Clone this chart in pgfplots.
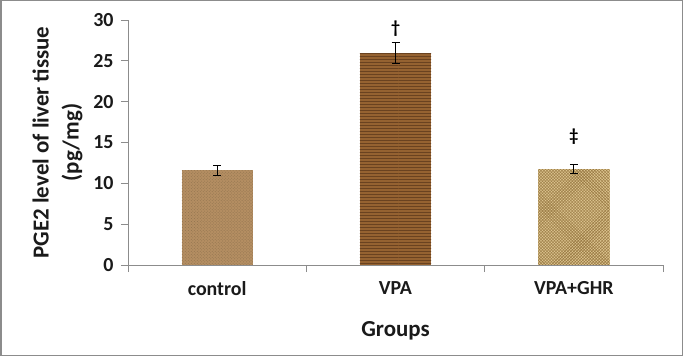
\documentclass[border=0pt]{standalone}
\usepackage{fontspec}
\setmainfont{Carlito}
\usepackage{pgfplots}
\pgfplotsset{compat=1.18}
\usetikzlibrary{patterns}
\definecolor{ctrl}{HTML}{B48E62}
\definecolor{vpa}{HTML}{956231}
\definecolor{vpadark}{HTML}{6A4220}
\definecolor{ghr}{HTML}{DCC48F}
\definecolor{ghrdark}{HTML}{94743E}
\definecolor{axgray}{HTML}{8C8C8C}
\definecolor{txt}{HTML}{1A1A1A}
\begin{document}
\begin{tikzpicture}
\draw[axgray, line width=1.5bp] (0.75bp,0.75bp) rectangle (682.25bp,355.25bp);
\begin{axis}[
  at={(128bp,91bp)}, anchor=south west,
  scale only axis, width=535bp, height=245bp,
  xmin=0, xmax=3, ymin=0, ymax=30,
  axis lines*=left,
  axis line style={axgray, line width=0.8bp},
  tick style={axgray, line width=0.8bp},
  tick align=outside, major tick length=7bp,
  ytick={0,5,...,30},
  xtick={0,1,2,3}, xticklabels={},
  extra x ticks={0.5,1.5,2.5},
  extra x tick labels={control,VPA,VPA+GHR},
  extra x tick style={tick style={draw=none}},
  xticklabel style={font=\bfseries\fontsize{20}{22}\selectfont, text=txt, yshift=-6bp},
  yticklabel style={font=\bfseries\fontsize{20}{22}\selectfont, text=txt, xshift=-4bp},
  /pgf/number format/assume math mode=true,
  xlabel={Groups},
  xlabel style={font=\bfseries\fontsize{23}{26}\selectfont, text=txt, yshift=-12bp},
  ylabel={PGE2 level of liver tissue\\(pg/mg)},
  ylabel style={font=\bfseries\fontsize{23}{30}\selectfont, text=txt, align=center, yshift=4bp},
  clip=false,
]
\addplot[ybar, bar width=0.4, fill=ctrl, draw=none,
  postaction={pattern=crosshatch dots, pattern color=ctrl!80!black},
  error bars/.cd, y dir=both, y explicit,
  error bar style={black, line width=0.9bp},
  error mark options={rotate=90, mark size=4bp, black, line width=0.9bp}]
  coordinates {(0.5,11.6) +- (0,0.6)};
\addplot[ybar, bar width=0.4, fill=vpa, draw=none,
  postaction={pattern=horizontal lines, pattern color=vpadark},
  error bars/.cd, y dir=both, y explicit,
  error bar style={black, line width=0.9bp},
  error mark options={rotate=90, mark size=4bp, black, line width=0.9bp}]
  coordinates {(1.5,26.0) +- (0,1.3)};
\addplot[ybar, bar width=0.4, fill=ghr, draw=none,
  postaction={pattern=crosshatch, pattern color=ghrdark},
  error bars/.cd, y dir=both, y explicit,
  error bar style={black, line width=0.9bp},
  error mark options={rotate=90, mark size=4bp, black, line width=0.9bp}]
  coordinates {(2.5,11.75) +- (0,0.6)};
\node[font=\bfseries\fontsize{18}{18}\selectfont] at (axis cs:1.5,29.0) {†};
\node[font=\bfseries\fontsize{18}{18}\selectfont] at (axis cs:2.5,15.7) {‡};
\end{axis}
\end{tikzpicture}
\end{document}
